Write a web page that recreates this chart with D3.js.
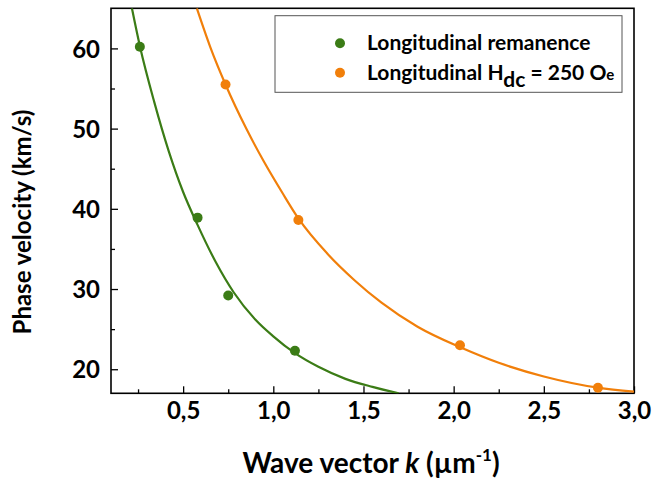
<!DOCTYPE html>
<html>
<head>
<meta charset="utf-8">
<script src="https://cdn.jsdelivr.net/npm/d3@7"></script>
<style>
  body { margin: 0; background: #fff; }
  svg text { font-family: Lato, "Open Sans", sans-serif; font-weight: bold; fill: #000; }
</style>
</head>
<body>
<div id="chart"></div>
<script>
// measured points
const remanenceK = [0.26, 0.58, 0.75, 1.12];
const remanenceV = [60.2, 38.9, 29.2, 22.3];
const fieldK = [0.735, 1.139, 2.035, 2.80];
const fieldV = [55.5, 38.6, 23.0, 17.7];

// fitted curves
const remanenceFitK = [0.216, 0.26, 0.34, 0.42, 0.50, 0.58, 0.68, 0.78, 0.90, 1.00, 1.12, 1.25, 1.40, 1.55, 1.695];
const remanenceFitV = [65.0, 60.3, 53.3, 47.2, 42.1, 38.0, 33.4, 29.6, 26.2, 24.1, 22.0, 20.3, 18.8, 17.8, 17.0];
const fieldFitK = [0.576, 0.65, 0.735, 0.85, 0.95, 1.05, 1.139, 1.30, 1.45, 1.60, 1.80, 2.04, 2.25, 2.50, 2.80, 3.00];
const fieldFitV = [65.0, 60.2, 55.5, 50.0, 45.8, 42.0, 38.8, 34.4, 31.1, 28.3, 25.3, 22.7, 20.8, 19.1, 17.7, 17.2];

const xMajor = [0.5, 1.0, 1.5, 2.0, 2.5, 3.0];
const xMinor = [0.25, 0.75, 1.25, 1.75, 2.25, 2.75];
const yMajor = [20, 30, 40, 50, 60];
const yMinor = [25, 35, 45, 55];

const green = '#3b7c16', orange = '#f17f0a';

const width = 654, height = 480;
const margin = {top: 8.3, right: 20, bottom: 86.7, left: 111};

const svg = d3.select('#chart').append('svg')
    .attr('width', width).attr('height', height);

const x = d3.scaleLinear([0.1, 3.0], [margin.left, width - margin.right]);
const y = d3.scaleLinear([17, 65], [height - margin.bottom, margin.top]);

const comma = d3.formatLocale({decimal: ',', thousands: '.', grouping: [3], currency: ['', '']}).format('.1f');

svg.append('clipPath').attr('id', 'plot')
  .append('rect')
    .attr('x', x(0.1)).attr('y', y(65))
    .attr('width', x(3.0) - x(0.1)).attr('height', y(17) - y(65));

// axes
const gx = svg.append('g')
    .attr('transform', `translate(0,${y(17)})`)
    .call(d3.axisBottom(x).tickValues(xMajor).tickSize(-7).tickPadding(9).tickFormat(comma));
svg.append('g')
    .attr('transform', `translate(0,${y(17)})`)
    .call(d3.axisBottom(x).tickValues(xMinor).tickSize(-4).tickFormat(''));
const gy = svg.append('g')
    .attr('transform', `translate(${x(0.1)},0)`)
    .call(d3.axisLeft(y).tickValues(yMajor).tickSize(-7).tickPadding(11).tickFormat(d3.format('d')));
svg.append('g')
    .attr('transform', `translate(${x(0.1)},0)`)
    .call(d3.axisLeft(y).tickValues(yMinor).tickSize(-4).tickFormat(''));

svg.selectAll('.domain').remove();
svg.selectAll('.tick line').attr('stroke', '#000').attr('stroke-width', 1.3);
gx.selectAll('text').style('font-size', '24px');
gy.selectAll('text').style('font-size', '24px').attr('dy', '0.36em');

// frame
svg.append('rect')
    .attr('x', x(0.1)).attr('y', y(65))
    .attr('width', x(3.0) - x(0.1)).attr('height', y(17) - y(65))
    .attr('fill', 'none').attr('stroke', '#000').attr('stroke-width', 1.6);

// curves
const line = d3.line().x(d => x(d[0])).y(d => y(d[1])).curve(d3.curveMonotoneX);
const plot = svg.append('g').attr('clip-path', 'url(#plot)');

plot.append('path')
    .datum(d3.zip(remanenceFitK, remanenceFitV))
    .attr('d', line).attr('fill', 'none').attr('stroke', green).attr('stroke-width', 2.2);
plot.append('path')
    .datum(d3.zip(fieldFitK, fieldFitV))
    .attr('d', line).attr('fill', 'none').attr('stroke', orange).attr('stroke-width', 2.2);

plot.selectAll('circle.rem')
  .data(d3.zip(remanenceK, remanenceV))
  .join('circle').attr('class', 'rem')
    .attr('cx', d => x(d[0])).attr('cy', d => y(d[1])).attr('r', 5)
    .attr('fill', green);
plot.selectAll('circle.fld')
  .data(d3.zip(fieldK, fieldV))
  .join('circle').attr('class', 'fld')
    .attr('cx', d => x(d[0])).attr('cy', d => y(d[1])).attr('r', 5)
    .attr('fill', orange);

// legend
const legend = svg.append('g');
legend.append('rect')
    .attr('x', 275).attr('y', 15.7).attr('width', 347).attr('height', 76.6)
    .attr('fill', '#fff').attr('stroke', '#555').attr('stroke-width', 1);
legend.append('circle').attr('cx', 340).attr('cy', 43.3).attr('r', 5).attr('fill', green);
legend.append('circle').attr('cx', 340).attr('cy', 72.7).attr('r', 5).attr('fill', orange);
legend.append('text')
    .attr('x', 367).attr('y', 50).style('font-size', '21px')
    .text('Longitudinal remanence');
const t2 = legend.append('text')
    .attr('x', 367).attr('y', 79.5).style('font-size', '21px');
t2.append('tspan').text('Longitudinal H');
t2.append('tspan').attr('dy', 7).text('dc');
t2.append('tspan').attr('dy', -7).text(' = 250 O');
t2.append('tspan').style('font-size', '15px').text('e');

// axis titles
svg.append('text')
    .attr('transform', `translate(31,222) rotate(-90)`)
    .attr('text-anchor', 'middle').style('font-size', '24px')
    .text('Phase velocity (km/s)');

const xt = svg.append('text')
    .attr('x', 371).attr('y', 473)
    .attr('text-anchor', 'middle').style('font-size', '28px');
xt.append('tspan').text('Wave vector ');
xt.append('tspan').style('font-style', 'italic').text('k');
xt.append('tspan').text(' (µm');
xt.append('tspan').attr('dy', -12).style('font-size', '17px').text('-1');
xt.append('tspan').attr('dy', 12).text(')');
</script>
</body>
</html>
